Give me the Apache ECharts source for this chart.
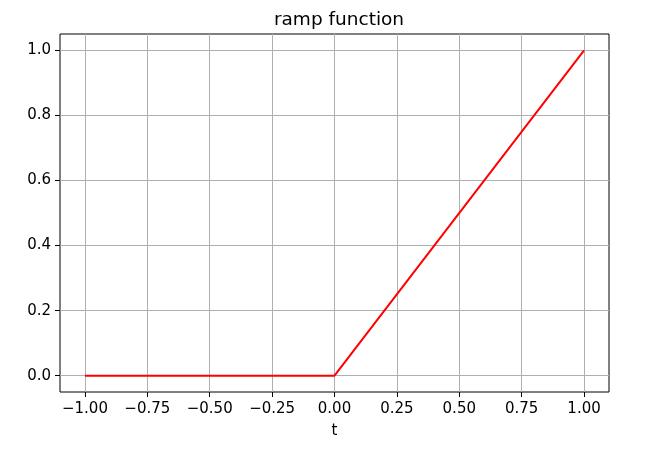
<!DOCTYPE html>
<html>
<head>
<meta charset="utf-8">
<script src="https://cdn.jsdelivr.net/npm/echarts@6/dist/echarts.min.js"></script>
<style>html,body{margin:0;padding:0;background:#fff;}#chart{width:646px;height:466px;}</style>
</head>
<body>
<div id="chart"></div>
<script>
const tValues = [-1, 0, 1];
const rampValues = [0, 0, 1];
const xTicks = [-1, -0.75, -0.5, -0.25, 0, 0.25, 0.5, 0.75, 1];
const yTicks = [0, 0.2, 0.4, 0.6, 0.8, 1.0];

const fmt = (v, d) => (v < 0 ? '\u2212' : '') + Math.abs(v).toFixed(d);
const font = 'DejaVu Sans';

const chart = echarts.init(document.getElementById('chart'));
chart.setOption({
  animation: false,
  title: {
    text: 'ramp function',
    left: 334, top: 6, textAlign: 'center',
    textStyle: { fontFamily: font, fontSize: 18.5, fontWeight: 'normal', color: '#000' }
  },
  grid: { left: 60, right: 37, top: 34, bottom: 74, show: true, borderColor: '#000', borderWidth: 1 },
  xAxis: {
    type: 'value', min: -1.1, max: 1.1,
    name: 't', nameLocation: 'middle', nameGap: 32,
    nameTextStyle: { fontFamily: font, fontSize: 15, color: '#000' },
    axisLine: { show: false, onZero: false },
    axisTick: { show: true, length: 5, customValues: xTicks, lineStyle: { color: '#000' } },
    axisLabel: { customValues: xTicks, fontFamily: font, fontSize: 15, color: '#000', margin: 10, formatter: v => fmt(v, 2) },
    splitLine: { show: true, lineStyle: { color: '#b0b0b0', width: 1 } }
  },
  yAxis: {
    type: 'value', min: -0.05, max: 1.05,
    axisLine: { show: false, onZero: false },
    axisTick: { show: true, length: 5, customValues: yTicks, lineStyle: { color: '#000' } },
    axisLabel: { customValues: yTicks, fontFamily: font, fontSize: 15, color: '#000', margin: 9, formatter: v => fmt(v, 1) },
    splitLine: { show: true, lineStyle: { color: '#b0b0b0', width: 1 } }
  },
  series: [{
    type: 'line',
    data: tValues.map((t, i) => [t, rampValues[i]]),
    showSymbol: false,
    lineStyle: { color: '#ff0000', width: 2 }
  }]
});
</script>
</body>
</html>
